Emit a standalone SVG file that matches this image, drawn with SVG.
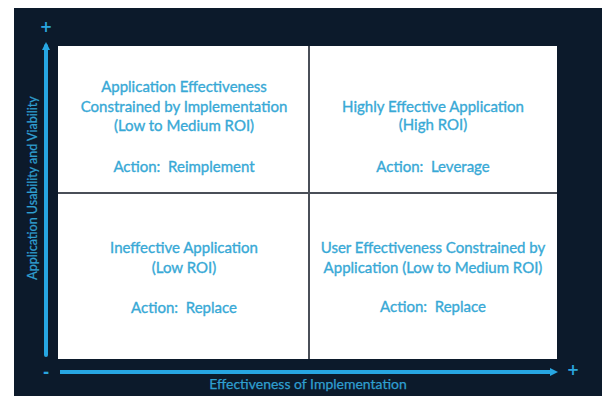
<svg xmlns="http://www.w3.org/2000/svg" width="602" height="396" viewBox="0 0 602 396">
<defs>
<style>
.q{font-family:Lato,"Open Sans",sans-serif;font-size:15px;fill:#38a9d6;stroke:#38a9d6;stroke-width:0.35;text-anchor:middle;white-space:pre}
.ax{font-family:Lato,"Open Sans",sans-serif;font-size:14px;fill:#2f9fd0;stroke:#2f9fd0;stroke-width:0.25;text-anchor:middle}
.ay{font-family:Lato,"Open Sans",sans-serif;font-size:12.5px;fill:#2f9fd0;stroke:#2f9fd0;stroke-width:0.25;text-anchor:middle}
.sign{font-family:"DejaVu Sans",sans-serif;font-size:15px;font-weight:bold;fill:#2aa4de;text-anchor:middle}
.axis{stroke:#27a6e2;stroke-width:4;fill:none}
.div{stroke:#4a4f58;stroke-width:2}
</style>
<marker id="ah" viewBox="0 0 6 6" refX="3" refY="3" markerWidth="2" markerHeight="2" orient="auto">
<path d="M0,0 L6,3 L0,6 z" fill="#27a6e2"/>
</marker>
</defs>
<rect x="14" y="8" width="588" height="388" fill="#0c1a2b"/>
<rect x="58" y="46" width="499" height="313" fill="#ffffff"/>
<g id="connectors">
<line class="div" x1="309" y1="46" x2="309" y2="359"/>
<line class="div" x1="58" y1="193" x2="557" y2="193"/>
<line class="axis" x1="46" y1="355" x2="46" y2="46" stroke-linecap="round" marker-end="url(#ah)"/>
<line class="axis" x1="60" y1="372" x2="554" y2="372" marker-end="url(#ah)"/>
</g>
<g id="axis-labels">
<text class="sign" x="46" y="32">+</text>
<text class="sign" x="46" y="377">-</text>
<text class="sign" x="573" y="375">+</text>
<text class="ax" x="308" y="389">Effectiveness of Implementation</text>
<text class="ay" transform="translate(37,188) rotate(-90)">Application Usability and Viability</text>
</g>
<g id="q-tl">
<text class="q" x="184" y="92">Application Effectiveness</text>
<text class="q" x="184" y="112">Constrained by Implementation</text>
<text class="q" x="184" y="131">(Low to Medium ROI)</text>
<text class="q" x="184" y="172" xml:space="preserve">Action:  Reimplement</text>
</g>
<g id="q-tr">
<text class="q" x="433" y="112">Highly Effective Application</text>
<text class="q" x="433" y="130">(High ROI)</text>
<text class="q" x="433" y="172" xml:space="preserve">Action:  Leverage</text>
</g>
<g id="q-bl">
<text class="q" x="184" y="253">Ineffective Application</text>
<text class="q" x="184" y="273">(Low ROI)</text>
<text class="q" x="184" y="313" xml:space="preserve">Action:  Replace</text>
</g>
<g id="q-br">
<text class="q" x="433" y="253">User Effectiveness Constrained by</text>
<text class="q" x="433" y="273">Application (Low to Medium ROI)</text>
<text class="q" x="433" y="312" xml:space="preserve">Action:  Replace</text>
</g>
</svg>
